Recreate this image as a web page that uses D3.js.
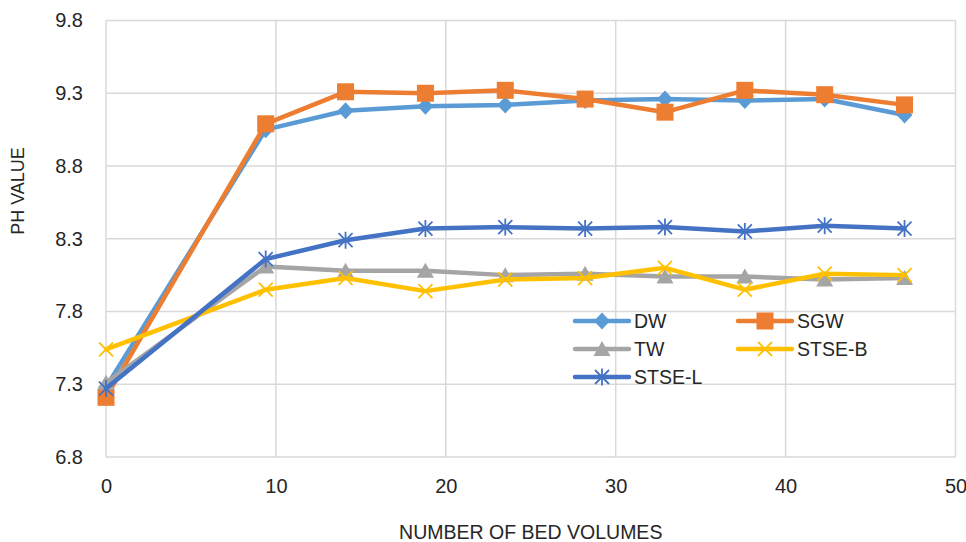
<!DOCTYPE html>
<html>
<head>
<meta charset="utf-8">
<script src="https://d3js.org/d3.v7.min.js"></script>
<style>
  body { margin: 0; background: #fff; }
  text { font-family: "Liberation Sans", Arial, sans-serif; fill: #262626; }
</style>
</head>
<body>
<div id="chart"></div>
<script>
// bed volumes (x) shared by all series
const bedVolumes = [0, 9.4, 14.1, 18.8, 23.5, 28.2, 32.9, 37.6, 42.3, 47.0];

const seriesNames = ["DW", "SGW", "TW", "STSE-B", "STSE-L"];
const dwValues    = [7.28, 9.05, 9.18, 9.21, 9.22, 9.25, 9.26, 9.25, 9.26, 9.15];
const sgwValues   = [7.21, 9.09, 9.31, 9.30, 9.32, 9.26, 9.17, 9.32, 9.29, 9.22];
const twValues    = [7.31, 8.11, 8.08, 8.08, 8.05, 8.06, 8.04, 8.04, 8.02, 8.03];
const stsebValues = [7.54, 7.95, 8.03, 7.94, 8.02, 8.03, 8.10, 7.95, 8.06, 8.05];
const stselValues = [7.27, 8.16, 8.29, 8.37, 8.38, 8.37, 8.38, 8.35, 8.39, 8.37];

const xTicks = [0, 10, 20, 30, 40, 50];
const yTicks = [6.8, 7.3, 7.8, 8.3, 8.8, 9.3, 9.8];

const colors  = ["#5B9BD5", "#ED7D31", "#A5A5A5", "#FFC000", "#4472C4"];
const markers = ["diamond", "square", "triangle", "x", "star"];

const width = 966, height = 542;
const margin = {top: 20.5, right: 10.5, bottom: 85, left: 106};

const svg = d3.select("#chart").append("svg")
    .attr("width", width)
    .attr("height", height);

const x = d3.scaleLinear().domain([0, 50]).range([margin.left, width - margin.right]);
const y = d3.scaleLinear().domain([6.8, 9.8]).range([height - margin.bottom, margin.top]);

// gridlines
const grid = svg.append("g");
grid.selectAll(".hg").data(yTicks).enter().append("line")
    .attr("x1", x(0)).attr("x2", x(50))
    .attr("y1", d => y(d)).attr("y2", d => y(d))
    .attr("stroke", "#d9d9d9").attr("stroke-width", 1.5);
grid.selectAll(".vg").data(xTicks).enter().append("line")
    .attr("y1", y(6.8)).attr("y2", y(9.8))
    .attr("x1", d => x(d)).attr("x2", d => x(d))
    .attr("stroke", "#d9d9d9").attr("stroke-width", 1.5);

// axes (labels only)
const xAxis = svg.append("g")
    .attr("transform", `translate(0,${y(6.8)})`)
    .call(d3.axisBottom(x).tickValues(xTicks).tickSize(0).tickPadding(22).tickFormat(d3.format("d")));
const yAxis = svg.append("g")
    .attr("transform", `translate(${x(0)},0)`)
    .call(d3.axisLeft(y).tickValues(yTicks).tickSize(0).tickPadding(23).tickFormat(d3.format(".1f")));
[xAxis, yAxis].forEach(a => {
  a.select(".domain").remove();
  a.selectAll("text").style("font-size", "20px").attr("fill", "#262626")
    .style("font-family", '"Liberation Sans", Arial, sans-serif');
});

svg.append("text")
    .attr("x", (x(0) + x(50)) / 2).attr("y", 539)
    .attr("text-anchor", "middle")
    .style("font-size", "19.5px")
    .text("NUMBER OF BED VOLUMES");

svg.append("text")
    .attr("transform", "translate(24,191) rotate(-90)")
    .attr("text-anchor", "middle")
    .style("font-size", "18px")
    .text("PH VALUE");

// Excel-style markers
function drawMarker(g, type, color) {
  if (type === "diamond") {
    g.append("path").attr("d", "M0,-8.5L8,0L0,8.5L-8,0Z").attr("fill", color);
  } else if (type === "square") {
    g.append("rect").attr("x", -8.5).attr("y", -8.5).attr("width", 17).attr("height", 17).attr("fill", color);
  } else if (type === "triangle") {
    g.append("path").attr("d", "M0,-8L8.5,7L-8.5,7Z").attr("fill", color);
  } else if (type === "x") {
    g.append("path").attr("d", "M-7,-7L7,7M-7,7L7,-7")
      .attr("stroke", color).attr("stroke-width", 1.8).attr("fill", "none");
  } else if (type === "star") {
    g.append("path").attr("d", "M-7,-7L7,7M-7,7L7,-7M0,-8.5L0,8.5")
      .attr("stroke", color).attr("stroke-width", 1.8).attr("fill", "none");
  }
}

const allValues = [dwValues, sgwValues, twValues, stsebValues, stselValues];
const line = d3.line().x(d => x(d[0])).y(d => y(d[1]));

allValues.forEach((vals, i) => {
  const pts = bedVolumes.map((b, j) => [b, vals[j]]);
  const g = svg.append("g");
  g.append("path").datum(pts)
    .attr("d", line)
    .attr("fill", "none")
    .attr("stroke", colors[i])
    .attr("stroke-width", 4.5)
    .attr("stroke-linejoin", "round")
    .attr("stroke-linecap", "round");
  pts.forEach(p => {
    const m = g.append("g").attr("transform", `translate(${x(p[0])},${y(p[1])})`);
    drawMarker(m, markers[i], colors[i]);
  });
});

// legend
const legendPos = [[575, 321], [738, 321], [575, 349], [738, 349], [575, 377]];
seriesNames.forEach((name, i) => {
  const lg = svg.append("g").attr("transform", `translate(${legendPos[i][0]},${legendPos[i][1]})`);
  lg.append("line").attr("x1", 0).attr("x2", 54).attr("y1", 0).attr("y2", 0)
    .attr("stroke", colors[i]).attr("stroke-width", 4.5).attr("stroke-linecap", "round");
  drawMarker(lg.append("g").attr("transform", "translate(27,0)"), markers[i], colors[i]);
  lg.append("text").attr("x", 59).attr("y", 7)
    .style("font-size", "19.5px")
    .text(name);
});
</script>
</body>
</html>
